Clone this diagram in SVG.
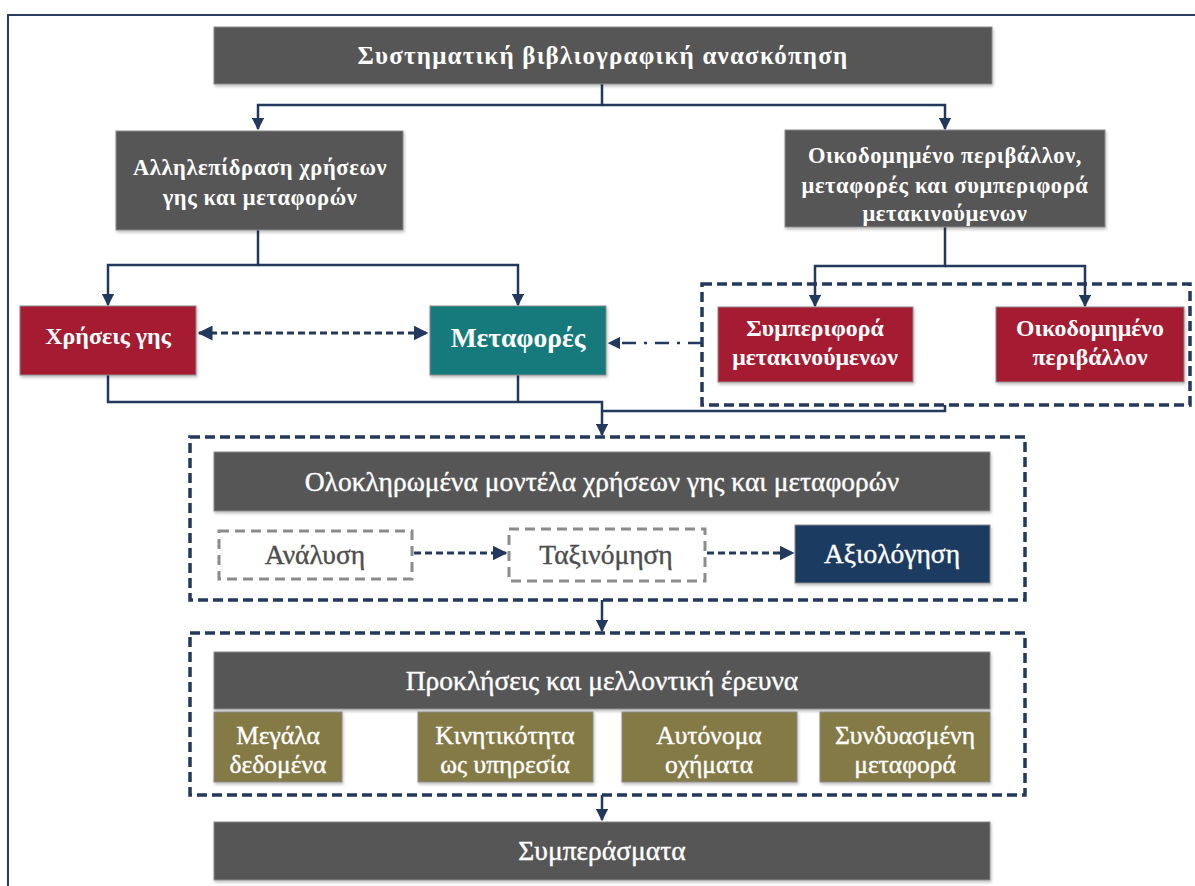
<svg xmlns="http://www.w3.org/2000/svg" width="1195" height="886" viewBox="0 0 1195 886">
  <style>
    .frame { fill: #ffffff; stroke: #2c3e5c; stroke-width: 2; }
    .box { stroke: #8a8a8a; stroke-width: 1; }
    .dark { fill: #575757; }
    .red { fill: #a51c30; }
    .teal { fill: #127a7b; }
    .navy { fill: #1f3b61; }
    .olive { fill: #847a45; }
    .group { fill: none; stroke: #22385c; stroke-width: 3.5; stroke-dasharray: 10 5; }
    .step { fill: #ffffff; stroke: #8c8c8c; stroke-width: 3; stroke-dasharray: 10 6; }
    .conn { fill: none; stroke: #22385c; stroke-width: 2.5; }
    .dash { stroke-dasharray: 7 4; stroke-width: 3; }
    .dashdot { stroke-dasharray: 14 8 3 8; }
    text { font-family: "Liberation Serif", "Times New Roman", serif; fill: #ffffff; text-anchor: middle; }
    .b { font-weight: bold; }
    .md { stroke: #ffffff; stroke-width: 0.4; }
    .t22 { font-size: 22.5px; }
    .t24 { font-size: 23.8px; }
    .t25 { font-size: 25.5px; }
    .t27 { font-size: 27.5px; }
    .dk { fill: #4d4d4d; stroke: #4d4d4d; }
  </style>
  <defs>
    <marker id="arr" viewBox="0 0 10 10" refX="9" refY="5" markerWidth="5" markerHeight="5" orient="auto-start-reverse">
      <path d="M0,0 L10,5 L0,10 z" fill="#22385c"/>
    </marker>
    <filter id="sh" x="-5%" y="-5%" width="110%" height="115%">
      <feDropShadow dx="1" dy="2" stdDeviation="1.5" flood-color="#000" flood-opacity="0.25"/>
    </filter>
  </defs>

  <!-- outer frame -->
  <rect class="frame" x="8" y="15" width="1210" height="900" filter="url(#sh)"/>

  <!-- connectors -->
  <g id="connectors">
    <path class="conn" d="M602,84 V105 H258 V129" marker-end="url(#arr)"/>
    <path class="conn" d="M602,105 H945 V129" marker-end="url(#arr)"/>
    <path class="conn" d="M258,230 V265 H108 V305" marker-end="url(#arr)"/>
    <path class="conn" d="M258,265 H518 V305" marker-end="url(#arr)"/>
    <path class="conn" d="M945,227 V266 H815 V306" marker-end="url(#arr)"/>
    <path class="conn" d="M945,266 H1085 V306" marker-end="url(#arr)"/>
    <path class="conn dash" d="M199,333 H427" marker-start="url(#arr)" marker-end="url(#arr)"/>
    <path class="conn dashdot" d="M702,343 H609" marker-end="url(#arr)"/>
    <path class="conn" d="M108,375 V402 H602 V435" marker-end="url(#arr)"/>
    <path class="conn" d="M518,375 V402"/>
    <path class="conn" d="M945,405 V411 H602"/>
    <path class="conn dash" d="M414,553 H506" marker-end="url(#arr)"/>
    <path class="conn dash" d="M707,553 H793" marker-end="url(#arr)"/>
    <path class="conn" d="M602,600 V631" marker-end="url(#arr)"/>
    <path class="conn" d="M602,795 V820" marker-end="url(#arr)"/>
  </g>

  <!-- top level -->
  <g id="review">
    <rect class="box dark" x="214" y="27" width="778" height="57" filter="url(#sh)"/>
    <text class="b" x="603" y="64" font-size="25" letter-spacing="1.2">Συστηματική βιβλιογραφική ανασκόπηση</text>
  </g>

  <g id="landuse-transport">
    <rect class="box dark" x="116" y="131" width="287" height="99" filter="url(#sh)"/>
    <text class="b t22" x="260" y="175" letter-spacing="0.6">Αλληλεπίδραση χρήσεων</text>
    <text class="b t22" x="260" y="205" letter-spacing="0.6">γης και μεταφορών</text>
  </g>

  <g id="built-environment">
    <rect class="box dark" x="785" y="130" width="320" height="97" filter="url(#sh)"/>
    <text class="b t22" x="945" y="163" letter-spacing="0.6">Οικοδομημένο περιβάλλον,</text>
    <text class="b t22" x="945" y="193" letter-spacing="0.6">μεταφορές και συμπεριφορά</text>
    <text class="b t22" x="945" y="221" letter-spacing="0.6">μετακινούμενων</text>
  </g>

  <!-- second level -->
  <g id="land-use">
    <rect class="box red" x="20" y="306" width="176" height="69" filter="url(#sh)"/>
    <text class="b" x="108" y="344" font-size="24">Χρήσεις γης</text>
  </g>

  <g id="transport">
    <rect class="box teal" x="430" y="306" width="176" height="69" filter="url(#sh)"/>
    <text class="b" x="518" y="347" font-size="27.5">Μεταφορές</text>
  </g>

  <g id="behaviour-group">
    <rect class="group" x="702" y="284" width="488" height="121"/>
  </g>

  <g id="travel-behaviour">
    <rect class="box red" x="718" y="307" width="195" height="75" filter="url(#sh)"/>
    <text class="b t24" x="815" y="336">Συμπεριφορά</text>
    <text class="b t24" x="815" y="365">μετακινούμενων</text>
  </g>

  <g id="built-env">
    <rect class="box red" x="996" y="307" width="188" height="75" filter="url(#sh)"/>
    <text class="b t24" x="1090" y="336">Οικοδομημένο</text>
    <text class="b t24" x="1090" y="365">περιβάλλον</text>
  </g>

  <!-- integrated models -->
  <g id="models-group">
    <rect class="group" x="190" y="437" width="835" height="163"/>
  </g>

  <g id="integrated-models">
    <rect class="box dark" x="214" y="452" width="776" height="59" filter="url(#sh)"/>
    <text class="t27 md" x="602" y="491">Ολοκληρωμένα μοντέλα χρήσεων γης και μεταφορών</text>
  </g>

  <g id="analysis">
    <rect class="step" x="219" y="531" width="193" height="48"/>
    <text class="t27 md dk" x="315" y="564">Ανάλυση</text>
  </g>

  <g id="classification">
    <rect class="step" x="509" y="529" width="196" height="52"/>
    <text class="t27 md dk" x="606" y="564">Ταξινόμηση</text>
  </g>

  <g id="evaluation">
    <rect class="box navy" x="795" y="525" width="195" height="58" filter="url(#sh)"/>
    <text class="t27 md" x="892" y="563">Αξιολόγηση</text>
  </g>

  <!-- challenges -->
  <g id="challenges-group">
    <rect class="group" x="190" y="633" width="835" height="162"/>
  </g>

  <g id="challenges">
    <rect class="box dark" x="214" y="652" width="776" height="57" filter="url(#sh)"/>
    <text class="t27 md" x="602" y="690">Προκλήσεις και μελλοντική έρευνα</text>
  </g>

  <g id="big-data">
    <rect class="box olive" x="214" y="712" width="128" height="70" filter="url(#sh)"/>
    <text class="t25 md" x="278" y="744">Μεγάλα</text>
    <text class="t25 md" x="278" y="773">δεδομένα</text>
  </g>

  <g id="maas">
    <rect class="box olive" x="418" y="712" width="175" height="70" filter="url(#sh)"/>
    <text class="t25 md" x="505" y="744">Κινητικότητα</text>
    <text class="t25 md" x="505" y="773">ως υπηρεσία</text>
  </g>

  <g id="autonomous">
    <rect class="box olive" x="622" y="712" width="175" height="70" filter="url(#sh)"/>
    <text class="t25 md" x="709" y="744">Αυτόνομα</text>
    <text class="t25 md" x="709" y="773">οχήματα</text>
  </g>

  <g id="intermodal">
    <rect class="box olive" x="820" y="712" width="170" height="70" filter="url(#sh)"/>
    <text class="t25 md" x="905" y="744">Συνδυασμένη</text>
    <text class="t25 md" x="905" y="773">μεταφορά</text>
  </g>

  <!-- conclusions -->
  <g id="conclusions">
    <rect class="box dark" x="214" y="822" width="776" height="58" filter="url(#sh)"/>
    <text class="t27 md" x="602" y="860">Συμπεράσματα</text>
  </g>
</svg>
